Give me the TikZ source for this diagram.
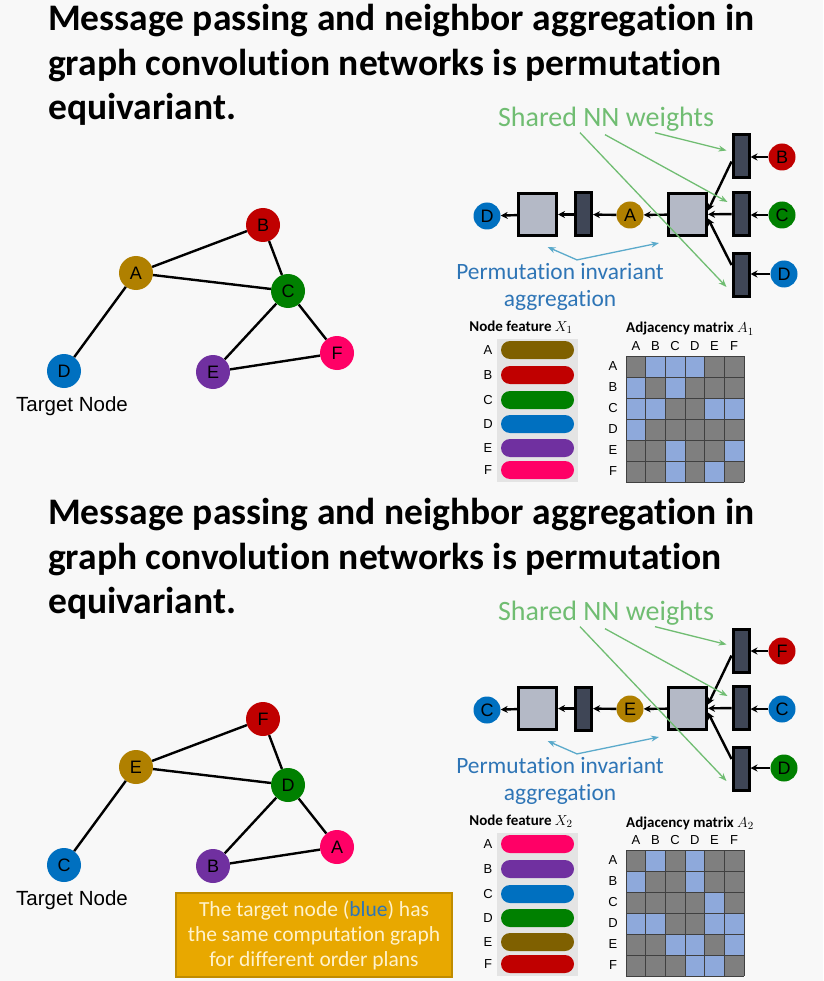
\documentclass[tikz,border=0pt]{standalone}
\usepackage{fontspec}
\setmainfont{Liberation Sans}
\newfontfamily\calfont[Ligatures={NoCommon}]{Carlito}
\usetikzlibrary{arrows.meta,positioning,calc}

\definecolor{bgcol}{HTML}{F8F8F8}
\definecolor{ngold}{HTML}{B08000}
\definecolor{nred}{HTML}{C00000}
\definecolor{ngreen}{HTML}{008000}
\definecolor{nblue}{HTML}{0070C0}
\definecolor{npurple}{HTML}{7030A0}
\definecolor{npink}{HTML}{FF0066}
\definecolor{nbrown}{HTML}{7F6000}
\definecolor{aggfill}{HTML}{B4B9C6}
\definecolor{nnfill}{HTML}{3F4656}
\definecolor{sharedgreen}{HTML}{70BD72}
\definecolor{permblue}{HTML}{2E75B6}
\definecolor{arrblue}{HTML}{5BAACB}
\definecolor{mgray}{HTML}{7F7F7F}
\definecolor{mblue}{HTML}{8EA9DB}
\definecolor{mline}{HTML}{404040}
\definecolor{featbg}{HTML}{E4E4E4}
\definecolor{boxfill}{HTML}{E8A800}
\definecolor{boxedge}{HTML}{C08C00}
\definecolor{boxtext}{HTML}{FFF2CC}

\tikzset{
  gnode/.style={circle, fill=#1, minimum size=34pt, inner sep=0pt, font=\fontsize{18}{18}\selectfont},
  cnode/.style={circle, fill=#1, minimum size=27pt, inner sep=0pt, font=\fontsize{18}{18}\selectfont},
  edge/.style={line width=2.4pt},
  aggbox/.style={draw, line width=3pt, fill=aggfill, minimum width=38pt, minimum height=42pt, inner sep=0pt},
  nnbox/.style={draw, line width=3pt, fill=nnfill, minimum width=16pt, minimum height=43pt, inner sep=0pt},
  flow/.style={-{Stealth[length=7pt,width=7pt]}, line width=2.4pt},
  greenarr/.style={-{Stealth[length=8pt,width=6pt]}, draw=sharedgreen, line width=1.3pt},
  bluearr/.style={-{Stealth[length=8pt,width=6pt]}, draw=arrblue, line width=1.3pt},
  featbar/.style={fill=#1, rounded corners=9pt},
  title/.style={anchor=north west, align=left, inner sep=0pt, font=\calfont\bfseries\fontsize{37.5}{44.5}\selectfont},
  small/.style={font=\fontsize{13}{13}\selectfont},
  caption/.style={font=\calfont\bfseries\fontsize{15}{15}\selectfont}
}

\begin{document}
\begin{tikzpicture}[x=1pt,y=-1pt]
\useasboundingbox (0,0) rectangle (823,981);
\fill[bgcol] (0,0) rectangle (823,981);

%first order plan
\begin{scope}[name prefix=top-]
\node[title] (title) at (48,4) {Message passing and neighbor aggregation in\\graph convolution networks is permutation\\equivariant.};

% input graph
\foreach \n/\x/\y/\c in {A/136/273/ngold, B/263/225/nred, C/288/291/ngreen, D/64/371/nblue, E/213/372/npurple, F/337/353/npink}
  \node[gnode=\c] (\n) at (\x,\y) {\n};
\foreach \a/\b in {A/B, A/C, A/D, B/C, C/E, C/F, E/F}
  \draw[edge] (\a) -- (\b);
\node[anchor=north, font=\fontsize{20.5}{20.5}\selectfont] (target) at ([xshift=8pt,yshift=-5pt]D.south) {Target Node};

% computation graph
\node[cnode=nblue] (out) at (487,216) {D};
\node[aggbox] (agg1) at (537.5,214.5) {};
\node[nnbox] (nn0) at (583.5,214.5) {};
\node[cnode=ngold] (mid) at (630,215) {A};
\node[aggbox] (agg2) at (687.5,214.5) {};
\node[nnbox] (nn1) at (741,156.5) {};
\node[nnbox] (nn2) at (741,214) {};
\node[nnbox] (nn3) at (741,275) {};
\node[cnode=nred] (in1) at (782,157) {B};
\node[cnode=ngreen] (in2) at (782,215) {C};
\node[cnode=nblue] (in3) at (784,274) {D};
\foreach \i in {1,2,3}
  \draw[flow] (in\i) -- (in\i -| nn\i.east);
\draw[flow] ([yshift=-5pt]nn1.west) -- ([yshift=4pt]agg2.east);
\draw[flow] (nn2) -- (agg2);
\draw[flow] ([yshift=10pt]nn3.west) -- ([yshift=-4pt]agg2.east);
\draw[flow] (agg2) -- (mid);
\draw[flow] (mid) -- (nn0);
\draw[flow] (nn0) -- (agg1);
\draw[flow] (agg1) -- (out);

\node[text=sharedgreen, font=\calfont\fontsize{28}{28}\selectfont] (shared) at (606,119) {Shared NN weights};
\draw[greenarr] ([xshift=49pt,yshift=2pt]shared.south) -- ([shift={(-5pt,6pt)}]nn1.west);
\draw[greenarr] ([xshift=-1pt]shared.south) -- ([shift={(-4pt,12pt)}]nn2.west);
\draw[greenarr] ([xshift=-26pt,yshift=2pt]shared.south) -- ([shift={(-5pt,-12pt)}]nn3.west);

\node[text=permblue, align=center, font=\calfont\fontsize{23.4}{27}\selectfont] (perm) at (560,287) {Permutation invariant\\aggregation};
\draw[bluearr] ([xshift=17pt]perm.north) -- ([shift={(10pt,-10pt)}]agg1.south);
\draw[bluearr] ([xshift=17pt]perm.north) -- ([shift={(-8pt,-6pt)}]agg2.south west);

% node features
\node[caption] (xcap) at (521,327) {Node feature $X_1$};
\fill[featbg] (497,339) rectangle (578,482);
\foreach \n/\y/\c in {A/350/nbrown, B/375/nred, C/400/ngreen, D/424/nblue, E/448/npurple, F/470/npink}
{
  \fill[featbar=\c] (501,\y-9) rectangle (574,\y+9);
  \node[small] at (488,\y) {\n};
}

% adjacency matrix
\node[caption] (acap) at (690,329) {Adjacency matrix $A_1$};
\fill[mgray] (626,356) rectangle (744,482);
\foreach \i/\j in {1/2,1/3,1/4,2/1,2/3,3/1,3/2,3/5,3/6,4/1,5/3,5/6,6/3,6/5}
  \fill[mblue] ({626+19.67*(\j-1)},{356+21*(\i-1)}) rectangle +(19.67,21);
\foreach \k in {0,...,6}
{
  \draw[mline] ({626+19.67*\k},356) -- ++(0,126);
  \draw[mline] (626,{356+21*\k}) -- ++(118,0);
}
\foreach \n [count=\k] in {A,B,C,D,E,F}
{
  \node[small] at ({626+19.67*(\k-0.5)},346) {\n};
  \node[small] at (613,{356+21*(\k-0.5)}) {\n};
}
\end{scope}

%second order plan
\begin{scope}[yshift=-494pt, name prefix=bot-]
\node[title] (title) at (48,4) {Message passing and neighbor aggregation in\\graph convolution networks is permutation\\equivariant.};

% input graph
\foreach \n/\x/\y/\c in {E/136/273/ngold, F/263/225/nred, D/288/291/ngreen, C/64/371/nblue, B/213/372/npurple, A/337/353/npink}
  \node[gnode=\c] (\n) at (\x,\y) {\n};
\foreach \a/\b in {E/F, E/D, E/C, F/D, D/B, D/A, B/A}
  \draw[edge] (\a) -- (\b);
\node[anchor=north, font=\fontsize{20.5}{20.5}\selectfont] (target) at ([xshift=8pt,yshift=-5pt]C.south) {Target Node};

% computation graph
\node[cnode=nblue] (out) at (487,216) {C};
\node[aggbox] (agg1) at (537.5,214.5) {};
\node[nnbox] (nn0) at (583.5,214.5) {};
\node[cnode=ngold] (mid) at (630,215) {E};
\node[aggbox] (agg2) at (687.5,214.5) {};
\node[nnbox] (nn1) at (741,156.5) {};
\node[nnbox] (nn2) at (741,214) {};
\node[nnbox] (nn3) at (741,275) {};
\node[cnode=nred] (in1) at (782,157) {F};
\node[cnode=nblue] (in2) at (782,215) {C};
\node[cnode=ngreen] (in3) at (784,274) {D};
\foreach \i in {1,2,3}
  \draw[flow] (in\i) -- (in\i -| nn\i.east);
\draw[flow] ([yshift=-5pt]nn1.west) -- ([yshift=4pt]agg2.east);
\draw[flow] (nn2) -- (agg2);
\draw[flow] ([yshift=10pt]nn3.west) -- ([yshift=-4pt]agg2.east);
\draw[flow] (agg2) -- (mid);
\draw[flow] (mid) -- (nn0);
\draw[flow] (nn0) -- (agg1);
\draw[flow] (agg1) -- (out);

\node[text=sharedgreen, font=\calfont\fontsize{28}{28}\selectfont] (shared) at (606,119) {Shared NN weights};
\draw[greenarr] ([xshift=49pt,yshift=2pt]shared.south) -- ([shift={(-5pt,6pt)}]nn1.west);
\draw[greenarr] ([xshift=-1pt]shared.south) -- ([shift={(-4pt,12pt)}]nn2.west);
\draw[greenarr] ([xshift=-26pt,yshift=2pt]shared.south) -- ([shift={(-5pt,-12pt)}]nn3.west);

\node[text=permblue, align=center, font=\calfont\fontsize{23.4}{27}\selectfont] (perm) at (560,287) {Permutation invariant\\aggregation};
\draw[bluearr] ([xshift=17pt]perm.north) -- ([shift={(10pt,-10pt)}]agg1.south);
\draw[bluearr] ([xshift=17pt]perm.north) -- ([shift={(-8pt,-6pt)}]agg2.south west);

% node features
\node[caption] (xcap) at (521,327) {Node feature $X_2$};
\fill[featbg] (497,339) rectangle (578,482);
\foreach \n/\y/\c in {A/350/npink, B/375/npurple, C/400/nblue, D/424/ngreen, E/448/nbrown, F/470/nred}
{
  \fill[featbar=\c] (501,\y-9) rectangle (574,\y+9);
  \node[small] at (488,\y) {\n};
}

% adjacency matrix
\node[caption] (acap) at (690,329) {Adjacency matrix $A_2$};
\fill[mgray] (626,356) rectangle (744,482);
\foreach \i/\j in {1/2,1/4,2/1,2/4,3/5,4/1,4/2,4/5,4/6,5/3,5/4,5/6,6/4,6/5}
  \fill[mblue] ({626+19.67*(\j-1)},{356+21*(\i-1)}) rectangle +(19.67,21);
\foreach \k in {0,...,6}
{
  \draw[mline] ({626+19.67*\k},356) -- ++(0,126);
  \draw[mline] (626,{356+21*\k}) -- ++(118,0);
}
\foreach \n [count=\k] in {A,B,C,D,E,F}
{
  \node[small] at ({626+19.67*(\k-0.5)},346) {\n};
  \node[small] at (613,{356+21*(\k-0.5)}) {\n};
}
\end{scope}

\node[draw=boxedge, fill=boxfill, line width=1.5pt, text=boxtext, minimum width=276pt, minimum height=84pt, align=center, font=\calfont\fontsize{21.5}{25}\selectfont] (note) at (314,935) {The target node (\textcolor{permblue}{blue}) has\\the same computation graph\\for different order plans};
\end{tikzpicture}
\end{document}
